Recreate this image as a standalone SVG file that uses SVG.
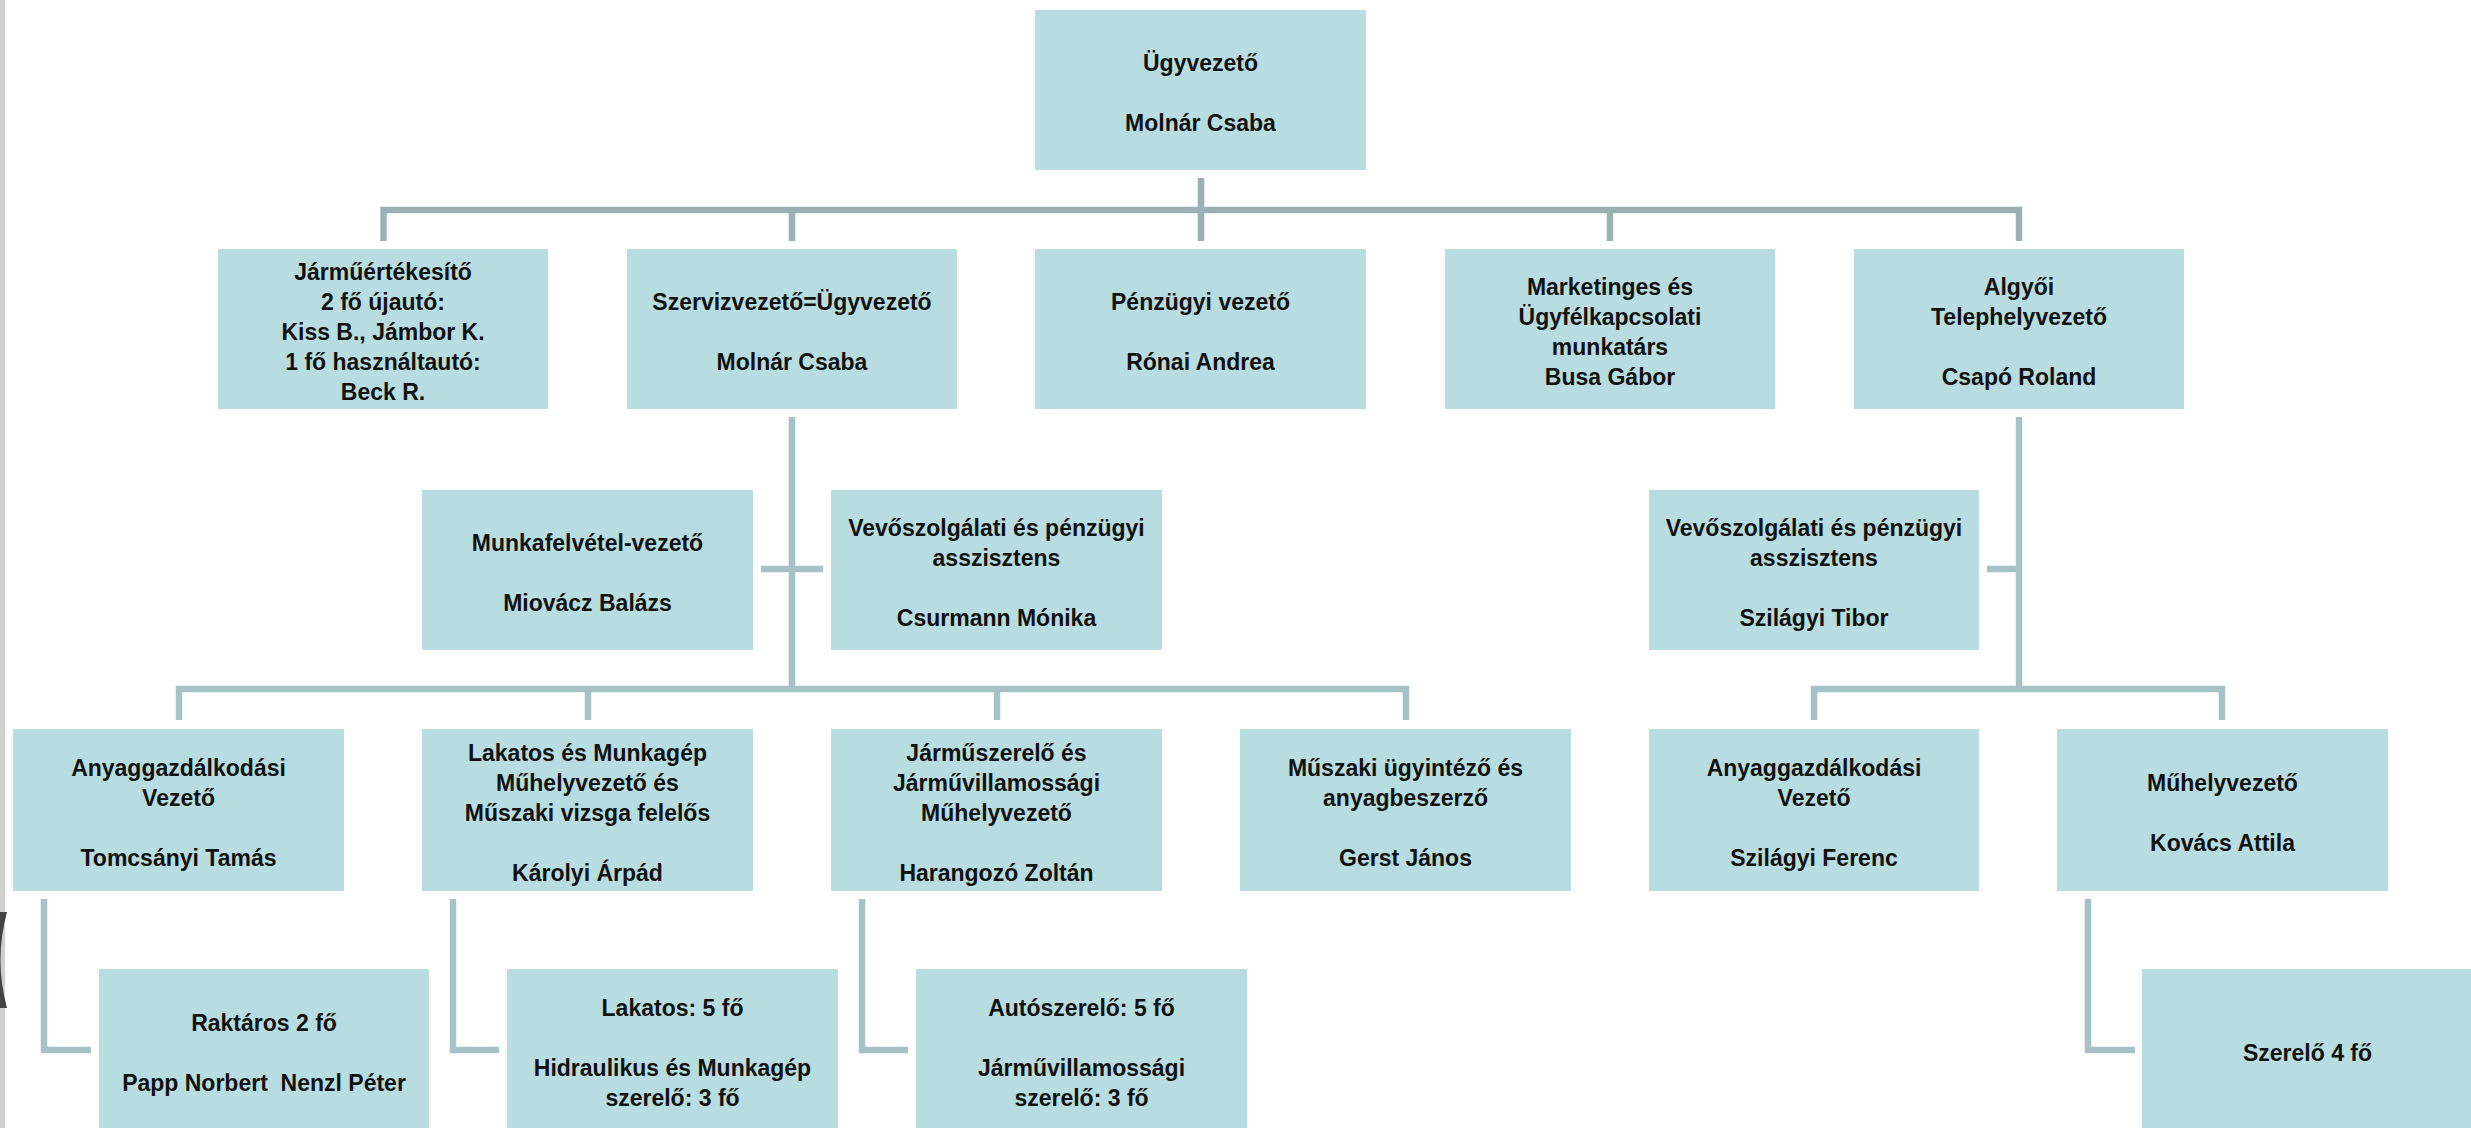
<svg xmlns="http://www.w3.org/2000/svg" width="2471" height="1128" viewBox="0 0 2471 1128">
<style>
.box{fill:#b8dde0}
.t{font-family:"Liberation Sans",Arial,sans-serif;font-weight:bold;font-size:23px;fill:#111;text-anchor:middle}
.c{fill:none;stroke:#a6c2c6;stroke-width:6.5;stroke-linecap:butt;stroke-linejoin:miter}
.c0{fill:none;stroke:#9bb0b5;stroke-width:6.5;stroke-linecap:butt;stroke-linejoin:miter}
</style>
<rect x="0" y="0" width="2471" height="1128" fill="#ffffff"/>
<rect x="0" y="0" width="5" height="1128" fill="#cfcfcf"/>
<path d="M7,912 Q-6,960 7,1008 L0,1008 L0,912 Z" fill="#444"/>

<g id="connectors">
<path class="c0" d="M1201,178 V241"/>
<path class="c0" d="M383.5,241 V210 H2019 V241"/>
<path class="c0" d="M792,210 V241"/>
<path class="c0" d="M1610,210 V241"/>
<path class="c" d="M792,417 V689"/>
<path class="c" d="M761,569 H823"/>
<path class="c" d="M179,720 V689 H1406 V720"/>
<path class="c" d="M588,689 V720"/>
<path class="c" d="M997,689 V720"/>
<path class="c" d="M2019,417 V689"/>
<path class="c" d="M1987,569 H2019"/>
<path class="c" d="M1814,720 V689 H2222 V720"/>
<path class="c" d="M44,899 V1050 H91"/>
<path class="c" d="M453,899 V1050 H499"/>
<path class="c" d="M862,899 V1050 H908"/>
<path class="c" d="M2088,899 V1050 H2135"/>
</g>

<g id="n-ugyvezeto">
<rect class="box" x="1035" y="10" width="331" height="160"/>
<text class="t" x="1200.5" y="71">Ügyvezető</text>
<text class="t" x="1200.5" y="131">Molnár Csaba</text>
</g>

<g id="n-jarmuertekesito">
<rect class="box" x="218" y="249" width="330" height="160"/>
<text class="t" x="383" y="280">Járműértékesítő</text>
<text class="t" x="383" y="310">2 fő újautó:</text>
<text class="t" x="383" y="340">Kiss B., Jámbor K.</text>
<text class="t" x="383" y="370">1 fő használtautó:</text>
<text class="t" x="383" y="400">Beck R.</text>
</g>

<g id="n-szervizvezeto">
<rect class="box" x="627" y="249" width="330" height="160"/>
<text class="t" x="792" y="310">Szervizvezető=Ügyvezető</text>
<text class="t" x="792" y="370">Molnár Csaba</text>
</g>

<g id="n-penzugyi">
<rect class="box" x="1035" y="249" width="331" height="160"/>
<text class="t" x="1200.5" y="310">Pénzügyi vezető</text>
<text class="t" x="1200.5" y="370">Rónai Andrea</text>
</g>

<g id="n-marketing">
<rect class="box" x="1445" y="249" width="330" height="160"/>
<text class="t" x="1610" y="295">Marketinges és</text>
<text class="t" x="1610" y="325">Ügyfélkapcsolati</text>
<text class="t" x="1610" y="355">munkatárs</text>
<text class="t" x="1610" y="385">Busa Gábor</text>
</g>

<g id="n-algyoi">
<rect class="box" x="1854" y="249" width="330" height="160"/>
<text class="t" x="2019" y="295">Algyői</text>
<text class="t" x="2019" y="325">Telephelyvezető</text>
<text class="t" x="2019" y="385">Csapó Roland</text>
</g>

<g id="n-munkafelvetel">
<rect class="box" x="422" y="490" width="331" height="160"/>
<text class="t" x="587.5" y="551">Munkafelvétel-vezető</text>
<text class="t" x="587.5" y="611">Miovácz Balázs</text>
</g>

<g id="n-csurmann">
<rect class="box" x="831" y="490" width="331" height="160"/>
<text class="t" x="996.5" y="536">Vevőszolgálati és pénzügyi</text>
<text class="t" x="996.5" y="566">asszisztens</text>
<text class="t" x="996.5" y="626">Csurmann Mónika</text>
</g>

<g id="n-szilagyi-tibor">
<rect class="box" x="1649" y="490" width="330" height="160"/>
<text class="t" x="1814" y="536">Vevőszolgálati és pénzügyi</text>
<text class="t" x="1814" y="566">asszisztens</text>
<text class="t" x="1814" y="626">Szilágyi Tibor</text>
</g>

<g id="n-anyag1">
<rect class="box" x="13" y="729" width="331" height="162"/>
<text class="t" x="178.5" y="776">Anyaggazdálkodási</text>
<text class="t" x="178.5" y="806">Vezető</text>
<text class="t" x="178.5" y="866">Tomcsányi Tamás</text>
</g>

<g id="n-lakatos">
<rect class="box" x="422" y="729" width="331" height="162"/>
<text class="t" x="587.5" y="761">Lakatos és Munkagép</text>
<text class="t" x="587.5" y="791">Műhelyvezető és</text>
<text class="t" x="587.5" y="821">Műszaki vizsga felelős</text>
<text class="t" x="587.5" y="881">Károlyi Árpád</text>
</g>

<g id="n-jarmuszerelo">
<rect class="box" x="831" y="729" width="331" height="162"/>
<text class="t" x="996.5" y="761">Járműszerelő és</text>
<text class="t" x="996.5" y="791">Járművillamossági</text>
<text class="t" x="996.5" y="821">Műhelyvezető</text>
<text class="t" x="996.5" y="881">Harangozó Zoltán</text>
</g>

<g id="n-muszaki">
<rect class="box" x="1240" y="729" width="331" height="162"/>
<text class="t" x="1405.5" y="776">Műszaki ügyintéző és</text>
<text class="t" x="1405.5" y="806">anyagbeszerző</text>
<text class="t" x="1405.5" y="866">Gerst János</text>
</g>

<g id="n-anyag2">
<rect class="box" x="1649" y="729" width="330" height="162"/>
<text class="t" x="1814" y="776">Anyaggazdálkodási</text>
<text class="t" x="1814" y="806">Vezető</text>
<text class="t" x="1814" y="866">Szilágyi Ferenc</text>
</g>

<g id="n-muhelyvezeto">
<rect class="box" x="2057" y="729" width="331" height="162"/>
<text class="t" x="2222.5" y="791">Műhelyvezető</text>
<text class="t" x="2222.5" y="851">Kovács Attila</text>
</g>

<g id="n-raktaros">
<rect class="box" x="99" y="969" width="330" height="162"/>
<text class="t" x="264" y="1031">Raktáros 2 fő</text>
<text class="t" x="264" y="1091" xml:space="preserve">Papp Norbert  Nenzl Péter</text>
</g>

<g id="n-lakatos-fo">
<rect class="box" x="507" y="969" width="331" height="162"/>
<text class="t" x="672.5" y="1016">Lakatos: 5 fő</text>
<text class="t" x="672.5" y="1076">Hidraulikus és Munkagép</text>
<text class="t" x="672.5" y="1106">szerelő: 3 fő</text>
</g>

<g id="n-autoszerelo">
<rect class="box" x="916" y="969" width="331" height="162"/>
<text class="t" x="1081.5" y="1016">Autószerelő: 5 fő</text>
<text class="t" x="1081.5" y="1076">Járművillamossági</text>
<text class="t" x="1081.5" y="1106">szerelő: 3 fő</text>
</g>

<g id="n-szerelo">
<rect class="box" x="2142" y="969" width="331" height="162"/>
<text class="t" x="2307.5" y="1061">Szerelő 4 fő</text>
</g>
</svg>
